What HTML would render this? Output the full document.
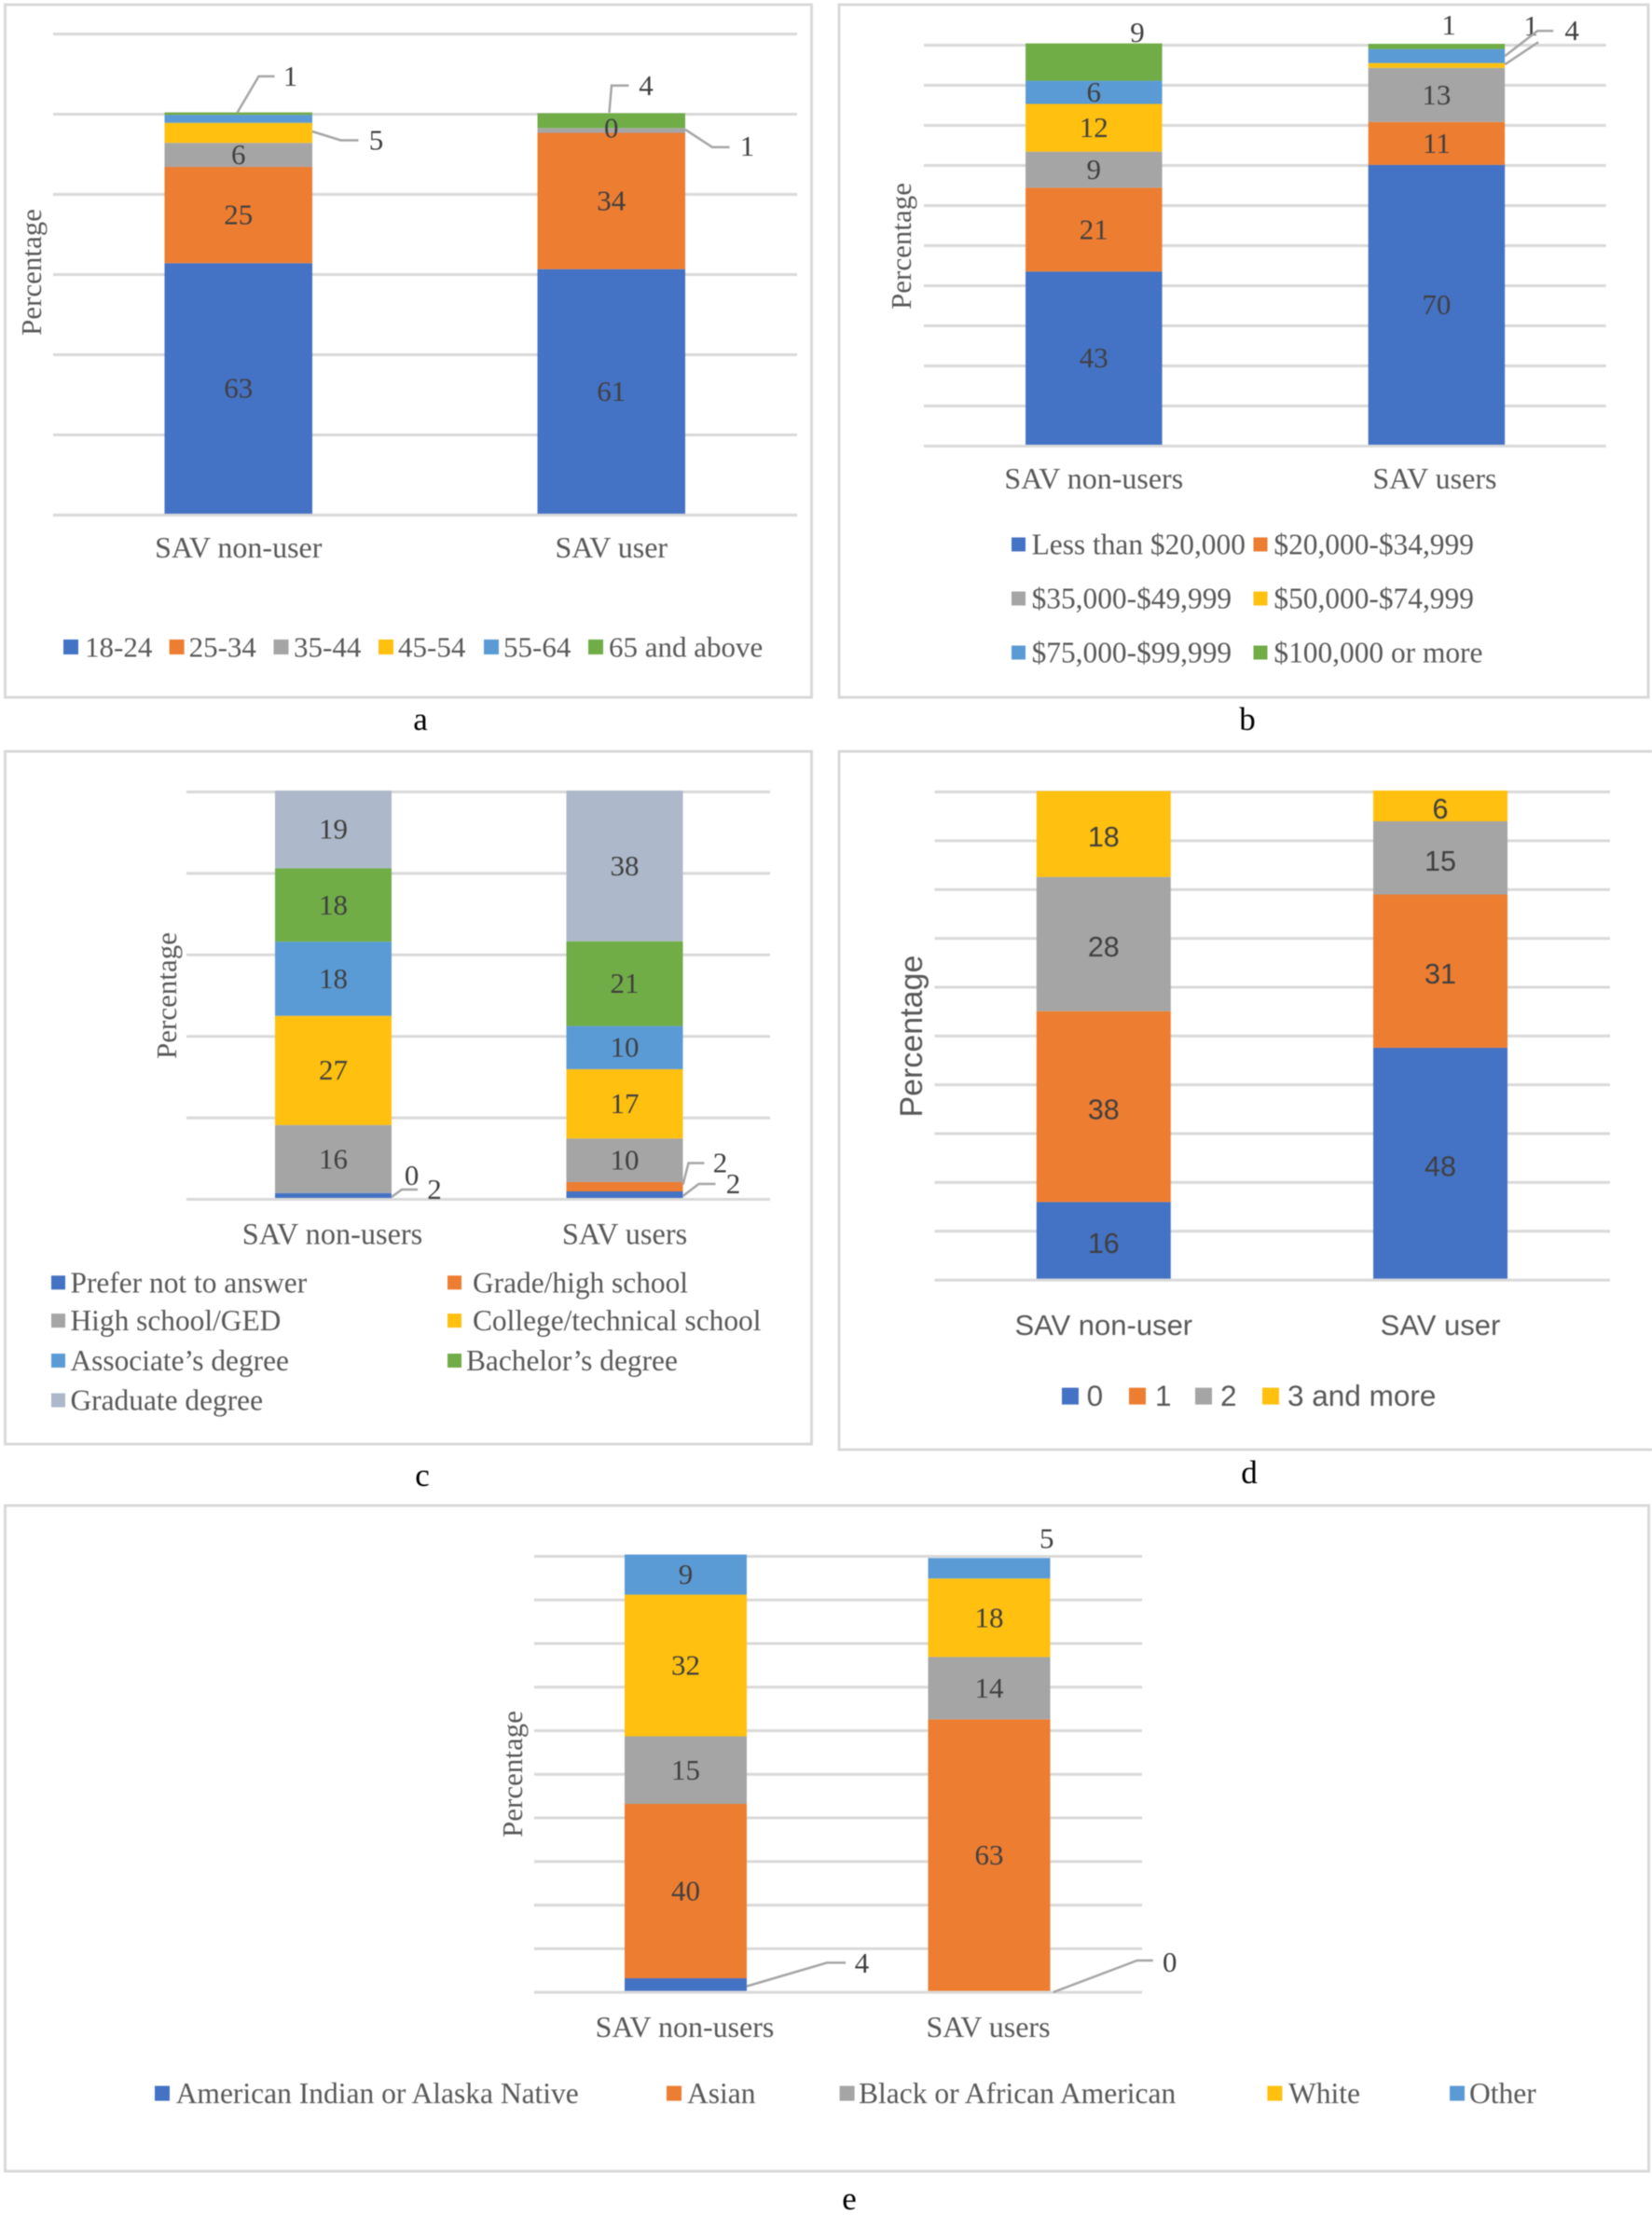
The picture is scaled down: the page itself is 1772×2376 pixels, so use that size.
<!DOCTYPE html>
<html lang="en">
<head>
<meta charset="utf-8">
<title>SAV users and non-users: stacked percentage charts</title>
<style>
html,body{margin:0;padding:0;background:#fff;}
body{width:1772px;height:2376px;overflow:hidden;}
svg{display:block;filter:blur(.5px);}
.serif{font-family:"Liberation Serif",serif;}
.sans{font-family:"Liberation Sans",sans-serif;}
.frame{fill:#fff;stroke:#d9d9d9;stroke-width:3;}
.axis-title{font-size:31px;fill:#595959;}
.caption{font-size:35px;fill:#000;text-anchor:middle;}
</style>
</head>
<body>
<svg id="figure" xmlns="http://www.w3.org/2000/svg" width="1772" height="2376" viewBox="0 0 1772 2376">
  <rect x="0" y="0" width="1772" height="2376" fill="#fff"/>

  <g id="panel-a" class="serif">
    <rect class="frame" x="5.5" y="5" width="865" height="743"/>
    <text class="axis-title" transform="translate(44,292) rotate(-90)" text-anchor="middle">Percentage</text>
    <g id="plot-a"></g>
    <text class="caption" x="451" y="783">a</text>
  </g>

  <g id="panel-b" class="serif">
    <rect class="frame" x="900" y="5" width="868" height="743"/>
    <text class="axis-title" transform="translate(977,264) rotate(-90)" text-anchor="middle">Percentage</text>
    <g id="plot-b"></g>
    <text class="caption" x="1338" y="783">b</text>
  </g>

  <g id="panel-c" class="serif">
    <rect class="frame" x="5.5" y="806" width="865" height="743"/>
    <text class="axis-title" transform="translate(189,1068) rotate(-90)" text-anchor="middle">Percentage</text>
    <g id="plot-c"></g>
    <text class="caption" x="453" y="1594">c</text>
  </g>

  <g id="panel-d" class="sans">
    <rect class="frame" x="900" y="806" width="880" height="749"/>
    <text transform="translate(989,1111.6) rotate(-90)" text-anchor="middle" font-size="34" fill="#595959">Percentage</text>
    <g id="plot-d"></g>
    <text class="caption serif" x="1340" y="1591">d</text>
  </g>

  <g id="panel-e" class="serif">
    <rect class="frame" x="5.5" y="1615" width="1763" height="714"/>
    <text class="axis-title" transform="translate(560,1903) rotate(-90)" text-anchor="middle">Percentage</text>
    <g id="plot-e"></g>
    <text class="caption" x="911" y="2370">e</text>
  </g>
</svg>

<script>
/* ---------- Panel a: age ---------- */
const ageCategories = ['SAV non-user', 'SAV user'];
const ageSeries = ['18-24', '25-34', '35-44', '45-54', '55-64', '65 and above'];
const ageNonUserValues = [62.5, 24, 6, 5, 2, 0.6];
const ageUserValues = [61, 34, 1.2, 0, 0, 3.7];
const ageNonUserLabels = ['63', '25', '6', '5', '', '1'];
const ageUserLabels = ['61', '34', '1', '0', '', '4'];
const ageTicks = [0, 20, 40, 60, 80, 100, 120];

/* ---------- Panel b: income ---------- */
const incomeCategories = ['SAV non-users', 'SAV users'];
const incomeSeries = ['Less than $20,000', '$20,000-$34,999', '$35,000-$49,999', '$50,000-$74,999', '$75,000-$99,999', '$100,000 or more'];
const incomeNonUserValues = [43.2, 20.9, 9, 11.9, 5.8, 9.3];
const incomeUserValues = [69.8, 10.7, 13.5, 1.2, 3.5, 1.3];
const incomeNonUserLabels = ['43', '21', '9', '12', '6', '9'];
const incomeUserLabels = ['70', '11', '13', '1', '4', '1'];
const incomeTicks = [0, 10, 20, 30, 40, 50, 60, 70, 80, 90, 100];

/* ---------- Panel c: education ---------- */
const eduCategories = ['SAV non-users', 'SAV users'];
const eduSeries = ['Prefer not to answer', 'Grade/high school', 'High school/GED', 'College/technical school', 'Associate\u2019s degree', 'Bachelor\u2019s degree', 'Graduate degree'];
const eduNonUserValues = [1.2, 0, 16.7, 26.8, 18.2, 18, 19.1];
const eduUserValues = [1.6, 2.3, 10.7, 17, 10.6, 20.8, 37];
const eduNonUserLabels = ['2', '0', '16', '27', '18', '18', '19'];
const eduUserLabels = ['2', '2', '10', '17', '10', '21', '38'];
const eduTicks = [0, 20, 40, 60, 80, 100];

/* ---------- Panel d: household vehicles ---------- */
const householdCategories = ['SAV non-user', 'SAV user'];
const householdSeries = ['0', '1', '2', '3 and more'];
const householdNonUserValues = [15.7, 39.1, 27.5, 17.6];
const householdUserValues = [47.3, 31.4, 15, 6.3];
const householdNonUserLabels = ['16', '38', '28', '18'];
const householdUserLabels = ['48', '31', '15', '6'];
const householdTicks = [0, 10, 20, 30, 40, 50, 60, 70, 80, 90, 100];

/* ---------- Panel e: race ---------- */
const raceCategories = ['SAV non-users', 'SAV users'];
const raceSeries = ['American Indian or Alaska Native', 'Asian', 'Black or African American', 'White', 'Other'];
const raceNonUserValues = [2.9, 40, 15.5, 32.5, 9.2];
const raceUserValues = [0, 62.3, 14.3, 18, 4.7];
const raceNonUserLabels = ['4', '40', '15', '32', '9'];
const raceUserLabels = ['0', '63', '14', '18', '5'];
const raceTicks = [0, 10, 20, 30, 40, 50, 60, 70, 80, 90, 100];

const NS = 'http://www.w3.org/2000/svg';
const BLUE = '#4472C4', ORANGE = '#ED7D31', GRAY = '#A5A5A5', GOLD = '#FFC00F', SKY = '#5B9BD5', GREEN = '#70AD47', SLATE = '#ADB9CA';

function mk(parent, tag, attrs, text) {
  const el = document.createElementNS(NS, tag);
  for (const k in attrs) el.setAttribute(k, attrs[k]);
  if (text !== undefined) el.textContent = text;
  parent.appendChild(el);
  return el;
}
function slug(s) {
  return String(s).toLowerCase().replace(/[^a-z0-9]+/g, '-').replace(/^-|-$/g, '');
}

function drawChart(p) {
  const root = document.getElementById(p.id);
  const yScale = v => p.y0 - v * p.pxPerUnit;
  const xScale = i => p.x0 + i * p.xStep;

  /* grid */
  p.ticks.forEach(t => {
    const g = mk(root, 'line', {x1: p.gridL, x2: p.gridR, y1: yScale(t) + 1.5, y2: yScale(t) + 1.5, stroke: '#d9d9d9', 'stroke-width': 3});
    
    
  });

  /* bars */
  p.categories.forEach((cat, i) => {
    const vals = p.values[i], labs = p.labels[i];
    const cx = xScale(i), left = cx - p.barW / 2, right = cx + p.barW / 2;
    let acc = 0;
    const centers = [];
    vals.forEach((v, s) => {
      const top = yScale(acc + v), bot = yScale(acc);
      centers.push((top + bot) / 2);
      const r = mk(root, 'rect', {x: left, y: top, width: p.barW, height: Math.max(0, bot - top), fill: p.colors[s]});
      
      
      acc += v;
    });
    /* data labels and leader lines */
    vals.forEach((v, s) => {
      if (labs[s] === '') return;
      const call = p.callouts[i + ':' + s];
      let lx = cx, ly = centers[s];
      if (call) {
        lx = right + call.label[0];
        ly = centers[s] + call.label[1];
        if (call.leader) {
          const pts = call.leader.map(q => (right + q[0]) + ',' + (centers[s] + q[1])).join(' ');
          const l = mk(root, 'polyline', {points: pts, fill: 'none', stroke: '#a6a6a6', 'stroke-width': 2.5});
          
          
        }
      }
      const t = mk(root, 'text', {x: lx, y: ly + p.labelDy, 'text-anchor': 'middle', 'font-size': p.labelFont, fill: '#404040'}, labs[s]);
      
      
    });
    /* category label */
    const c = mk(root, 'text', {x: xScale(i) + p.catShift[i], y: p.catY + 10, 'text-anchor': 'middle', 'font-size': p.catFont, fill: '#595959'}, cat);
    
    
  });

  /* legend */
  p.series.forEach((name, s) => {
    const pos = p.legend(s);
    const sw = mk(root, 'rect', {x: pos.sx, y: pos.y - p.swatch / 2, width: p.swatch, height: p.swatch, fill: p.colors[s]});
    
    
    const tx = mk(root, 'text', {x: pos.tx, y: pos.y + 10.5, 'font-size': p.legendFont, fill: '#595959'}, name);
    
    
  });
}

const aSwatchX = [68, 181.6, 293.5, 406, 519, 631], aTextX = [91, 202.6, 315, 427, 540, 653];
drawChart({
  id: 'plot-a', categories: ageCategories, series: ageSeries, ticks: ageTicks,
  values: [ageNonUserValues, ageUserValues], labels: [ageNonUserLabels, ageUserLabels],
  colors: [BLUE, ORANGE, GRAY, GOLD, SKY, GREEN],
  y0: 551, pxPerUnit: 4.3, x0: 255.75, xStep: 400, barW: 158.5, gridL: 57, gridR: 855, catY: 588, catShift: [0, 0],
  swatch: 16, legendFont: 31, catFont: 32, labelFont: 31, labelDy: 10,
  legend: s => ({sx: aSwatchX[s], tx: aTextX[s], y: 694}),
  callouts: {
    '0:5': {label: [-23.5, -40], leader: [[-80.5, -1], [-57.5, -40], [-40.5, -40]]},
    '0:3': {label: [68.5, 8], leader: [[0, -1.5], [30.5, 8], [49.5, 8]]},
    '1:2': {label: [66.5, 17], leader: [[0, -1], [29, 18], [47.5, 18]]},
    '1:5': {label: [-42, -37.6], leader: [[-81.5, -8.6], [-79, -37.6], [-60.5, -37.6]]}
  }
});

const bSwatchX = [1085, 1344.5], bTextX = [1106.6, 1366.4], bRowY = [584, 642, 700];
drawChart({
  id: 'plot-b', categories: incomeCategories, series: incomeSeries, ticks: incomeTicks,
  values: [incomeNonUserValues, incomeUserValues], labels: [incomeNonUserLabels, incomeUserLabels],
  colors: [BLUE, ORANGE, GRAY, GOLD, SKY, GREEN],
  y0: 477, pxPerUnit: 4.3, x0: 1173.3, xStep: 367.6, barW: 146.5, gridL: 991, gridR: 1722.5, catY: 514, catShift: [0, -2],
  swatch: 15, legendFont: 31.4, catFont: 32, labelFont: 31, labelDy: 10,
  legend: s => ({sx: bSwatchX[s % 2], tx: bTextX[s % 2], y: bRowY[Math.floor(s / 2)]}),
  callouts: {
    '0:5': {label: [-26.6, -31.5]},
    '1:5': {label: [-60, -23]},
    '1:4': {label: [72, -27], leader: [[0, 0], [35, -27], [52, -27]]},
    '1:3': {label: [28, -42], leader: [[0, -1], [36, -25]]}
  }
});

const cSwatchX = [55, 480], cTextX = [75.5, 507, 75.5, 507, 75.5, 500, 75.5], cRowY = [1375.8, 1416.6, 1459.5, 1502];
drawChart({
  id: 'plot-c', categories: eduCategories, series: eduSeries, ticks: eduTicks,
  values: [eduNonUserValues, eduUserValues], labels: [eduNonUserLabels, eduUserLabels],
  colors: [BLUE, ORANGE, GRAY, GOLD, SKY, GREEN, SLATE],
  y0: 1285, pxPerUnit: 4.37, x0: 357.5, xStep: 312.5, barW: 125, gridL: 200, gridR: 826, catY: 1324.5, catShift: [-1, 0],
  swatch: 15, legendFont: 31.4, catFont: 32.3, labelFont: 31, labelDy: 10,
  legend: s => ({sx: cSwatchX[s % 2], tx: cTextX[s], y: cRowY[Math.floor(s / 2)]}),
  callouts: {
    '0:0': {label: [46, -6.4], leader: [[0, 1.6], [11, -6.4], [28, -6.4]]},
    '0:1': {label: [21.6, -19]},
    '1:0': {label: [54, -11.5], leader: [[0, 1.5], [17, -11.5], [35, -11.5]]},
    '1:1': {label: [40, -25.4], leader: [[0, -2], [6, -25.4], [23, -25.4]]}
  }
});

const dSwatchX = [1139, 1211, 1282, 1354], dTextX = [1165.6, 1239, 1309, 1381];
drawChart({
  id: 'plot-d', categories: householdCategories, series: householdSeries, ticks: householdTicks,
  values: [householdNonUserValues, householdUserValues], labels: [householdNonUserLabels, householdUserLabels],
  colors: [BLUE, ORANGE, GRAY, GOLD],
  y0: 1371.6, pxPerUnit: 5.236, x0: 1183.8, xStep: 361.2, barW: 144, gridL: 1002.5, gridR: 1727, catY: 1421.8, catShift: [0, 0],
  swatch: 18, legendFont: 31.5, catFont: 31, labelFont: 30.5, labelDy: 13.5,
  legend: s => ({sx: dSwatchX[s], tx: dTextX[s], y: 1497.6}),
  callouts: {}
});

const eSwatchX = [166, 715, 900.6, 1359.4, 1555], eTextX = [188.7, 737, 921, 1382, 1576];
drawChart({
  id: 'plot-e', categories: raceCategories, series: raceSeries, ticks: raceTicks,
  values: [raceNonUserValues, raceUserValues], labels: [raceNonUserLabels, raceUserLabels],
  colors: [BLUE, ORANGE, GRAY, GOLD, SKY],
  y0: 2135.6, pxPerUnit: 4.676, x0: 735.5, xStep: 325.5, barW: 131, gridL: 573, gridR: 1225, catY: 2175, catShift: [-1, -1],
  swatch: 16, legendFont: 31.5, catFont: 32, labelFont: 31, labelDy: 10,
  legend: s => ({sx: eSwatchX[s], tx: eTextX[s], y: 2245.5}),
  callouts: {
    '0:0': {label: [123.5, -22.8], leader: [[0, 1.8], [86, -23.4], [106, -23.4]]},
    '1:0': {label: [128.3, -30.6], leader: [[3.3, 1.4], [93.3, -32.6], [110.3, -32.6]]},
    '1:4': {label: [-3.7, -32]}
  }
});
</script>
</body>
</html>
